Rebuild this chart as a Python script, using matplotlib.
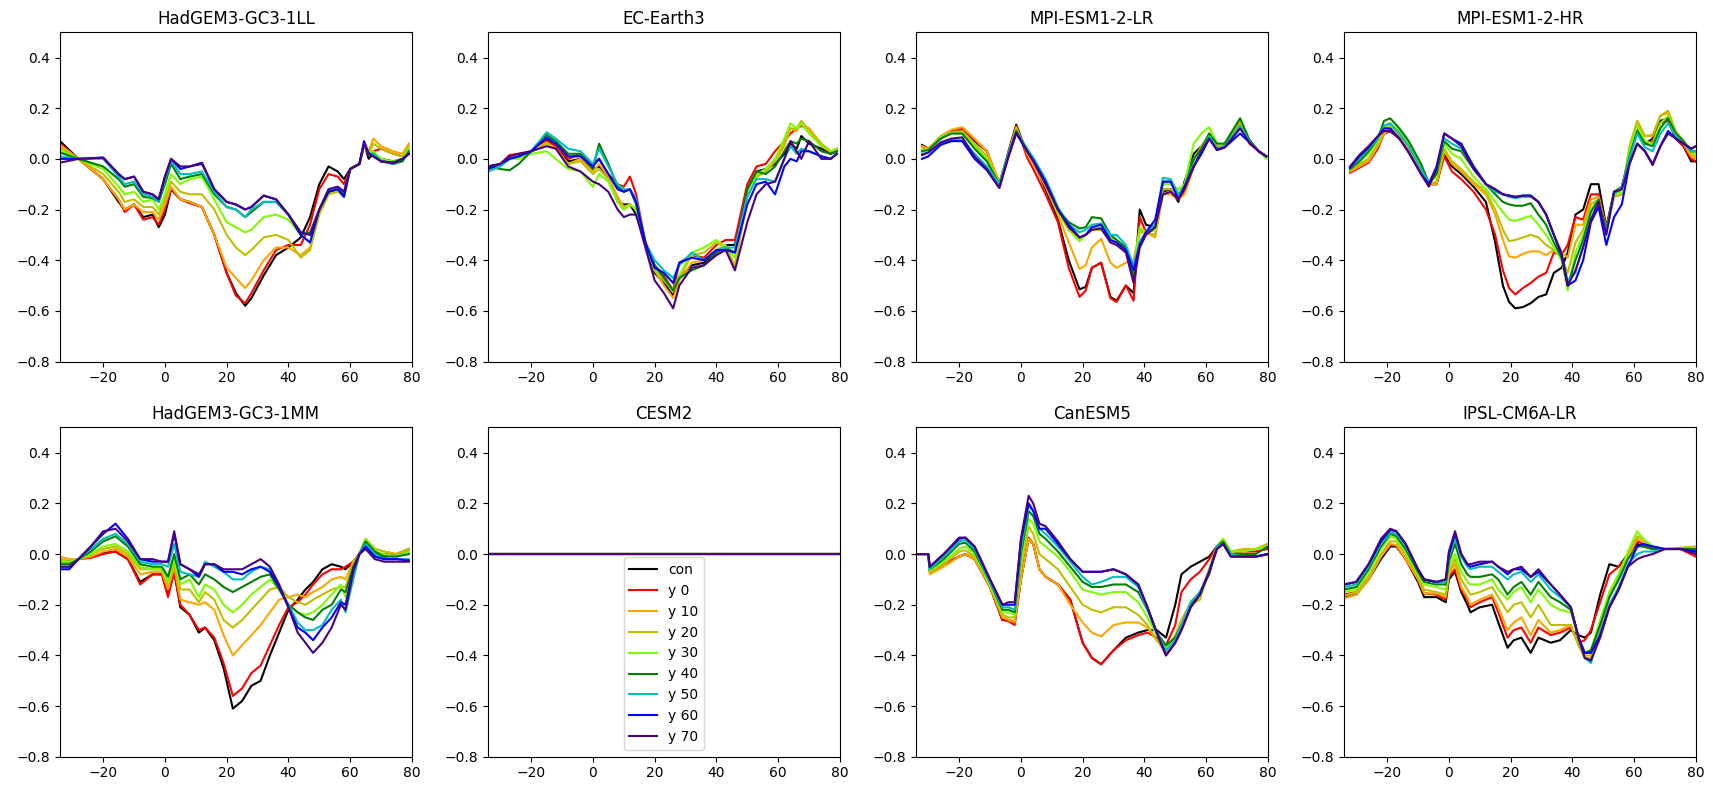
import matplotlib.pyplot as plt

LABELS = ["con", "y 0", "y 10", "y 20", "y 30", "y 40", "y 50", "y 60", "y 70"]
COLORS = ["black", "red", "orange", "y", "lawngreen", "green", "c", "blue", "indigo"]

# ---- HadGEM3-GC3-1LL ----
hadll_lat = [-34, -28, -20, -15, -13, -10, -7, -4, -2, 0, 2, 5, 8, 12, 16, 20, 23, 26, 28, 32, 36, 40,
             44, 47, 50, 53, 56, 58, 60, 63, 64.5, 66, 67.5, 70, 74, 77, 79]
hadll_con = [0.07, 0.0, -0.08, -0.17, -0.2, -0.18, -0.23, -0.22, -0.27, -0.22, -0.12, -0.16, -0.17, -0.19, -0.3, -0.45,
             -0.53, -0.58, -0.55, -0.46, -0.38, -0.35, -0.31, -0.23, -0.1, -0.03, -0.05, -0.08, -0.04, -0.02, 0.06,
             0.0, 0.02, 0.0, -0.01, 0.0, 0.02]
hadll_y0 = [0.06, 0.0, -0.08, -0.16, -0.21, -0.18, -0.24, -0.23, -0.26, -0.2, -0.115, -0.16, -0.175, -0.19, -0.3, -0.45,
            -0.54, -0.57, -0.53, -0.44, -0.36, -0.34, -0.34, -0.26, -0.12, -0.06, -0.07, -0.1, -0.04, -0.02, 0.05,
            0.02, 0.03, 0.04, 0.02, 0.01, 0.02]
hadll_y10 = [0.055, 0.0, -0.08, -0.16, -0.2, -0.18, -0.21, -0.21, -0.24, -0.18, -0.11, -0.16, -0.17, -0.19, -0.3, -0.43,
             -0.47, -0.51, -0.48, -0.4, -0.35, -0.35, -0.38, -0.35, -0.2, -0.13, -0.12, -0.14, -0.04, -0.02, 0.05,
             0.03, 0.08, 0.05, 0.03, 0.02, 0.06]
hadll_y20 = [0.045, 0.0, -0.06, -0.13, -0.17, -0.16, -0.19, -0.19, -0.22, -0.16, -0.09, -0.13, -0.14, -0.14, -0.2, -0.3,
             -0.35, -0.38, -0.36, -0.31, -0.3, -0.32, -0.39, -0.36, -0.22, -0.14, -0.13, -0.15, -0.04, -0.02, 0.05,
             0.02, 0.06, 0.04, 0.02, 0.01, 0.05]
hadll_y30 = [0.035, 0.0, -0.04, -0.11, -0.14, -0.13, -0.17, -0.16, -0.2, -0.14, -0.06, -0.1, -0.08, -0.07, -0.16, -0.25,
             -0.27, -0.29, -0.28, -0.23, -0.22, -0.24, -0.3, -0.33, -0.2, -0.13, -0.12, -0.15, -0.04, -0.02, 0.06,
             0.02, 0.03, 0.0, -0.01, 0.0, 0.04]
hadll_y40 = [0.025, 0.0, -0.03, -0.08, -0.11, -0.1, -0.15, -0.155, -0.17, -0.1, -0.02, -0.08, -0.07, -0.06, -0.14, -0.19,
             -0.2, -0.23, -0.21, -0.17, -0.17, -0.22, -0.3, -0.29, -0.2, -0.13, -0.12, -0.14, -0.04, -0.02, 0.06,
             0.02, 0.02, -0.01, -0.02, -0.01, 0.03]
hadll_y50 = [0.01, 0.0, 0.0, -0.07, -0.1, -0.09, -0.14, -0.15, -0.17, -0.08, -0.01, -0.06, -0.06, -0.05, -0.13, -0.19,
             -0.2, -0.23, -0.2, -0.17, -0.17, -0.22, -0.29, -0.3, -0.2, -0.12, -0.11, -0.13, -0.04, -0.02, 0.06,
             0.02, 0.02, -0.01, -0.015, 0.0, 0.02]
hadll_y60 = [0.0, 0.0, 0.005, -0.06, -0.08, -0.07, -0.13, -0.14, -0.16, -0.07, 0.0, -0.04, -0.03, -0.02, -0.12, -0.17,
             -0.18, -0.2, -0.19, -0.145, -0.16, -0.22, -0.3, -0.33, -0.2, -0.13, -0.12, -0.15, -0.04, -0.02, 0.07,
             0.02, 0.01, -0.01, -0.015, 0.0, 0.02]
hadll_y70 = [-0.015, 0.0, 0.005, -0.06, -0.08, -0.07, -0.13, -0.14, -0.16, -0.07, 0.0, -0.03, -0.03, -0.015, -0.12, -0.17,
             -0.18, -0.2, -0.19, -0.145, -0.16, -0.22, -0.29, -0.3, -0.2, -0.12, -0.11, -0.13, -0.04, -0.02, 0.06,
             0.02, 0.01, -0.01, -0.015, 0.0, 0.02]

# ---- EC-Earth3 ----
ec_lat = [-34, -30, -27, -24, -20, -15, -12, -8, -4, 0, 2, 5, 8, 10, 12, 14, 17, 20, 23, 26, 28, 32, 36, 40, 43,
          46, 50, 53, 56, 59, 62, 64, 66, 67.5, 70, 74, 77, 79]
ec_con = [-0.03, -0.02, 0.0, 0.01, 0.03, 0.075, 0.05, -0.01, 0.0, -0.04, -0.03, -0.07, -0.17, -0.18, -0.18, -0.22, -0.33,
          -0.45, -0.49, -0.54, -0.47, -0.42, -0.41, -0.37, -0.34, -0.34, -0.12, -0.05, -0.04, -0.02, 0.02, 0.06, 0.04,
          0.09, 0.06, 0.04, 0.02, 0.03]
ec_y0 = [-0.04, -0.02, 0.015, 0.02, 0.03, 0.07, 0.05, 0.0, 0.02, -0.02, 0.0, -0.06, -0.1, -0.11, -0.07, -0.14, -0.33,
         -0.42, -0.46, -0.52, -0.41, -0.38, -0.39, -0.34, -0.32, -0.32, -0.1, -0.03, -0.02, 0.03, 0.07, 0.1, 0.12,
         0.13, 0.12, 0.05, 0.02, 0.04]
ec_y10 = [-0.04, -0.02, 0.0, 0.01, 0.03, 0.065, 0.04, -0.02, 0.0, -0.05, -0.02, -0.07, -0.15, -0.19, -0.18, -0.2, -0.33,
          -0.44, -0.5, -0.55, -0.48, -0.41, -0.4, -0.36, -0.34, -0.43, -0.15, -0.07, -0.05, -0.01, 0.05, 0.12, 0.11,
          0.14, 0.12, 0.06, 0.03, 0.04]
ec_y20 = [-0.04, -0.02, 0.0, 0.01, 0.03, 0.06, 0.04, -0.02, -0.01, -0.06, -0.04, -0.08, -0.17, -0.2, -0.18, -0.2, -0.33,
          -0.44, -0.48, -0.52, -0.47, -0.38, -0.37, -0.33, -0.35, -0.42, -0.15, -0.07, -0.05, 0.0, 0.06, 0.12, 0.12,
          0.15, 0.11, 0.06, 0.03, 0.04]
ec_y30 = [-0.04, -0.02, 0.0, 0.0, 0.02, 0.03, 0.0, -0.04, -0.05, -0.11, -0.06, -0.09, -0.17, -0.2, -0.18, -0.2, -0.33,
          -0.43, -0.47, -0.52, -0.46, -0.37, -0.35, -0.32, -0.35, -0.39, -0.15, -0.06, -0.04, 0.0, 0.08, 0.14, 0.12,
          0.14, 0.1, 0.05, 0.03, 0.04]
ec_y40 = [-0.03, -0.04, -0.045, -0.02, 0.03, 0.095, 0.07, 0.02, 0.02, -0.04, 0.06, -0.02, -0.11, -0.13, -0.12, -0.18,
          -0.33, -0.42, -0.47, -0.52, -0.47, -0.44, -0.42, -0.37, -0.35, -0.37, -0.12, -0.05, -0.06, -0.03, 0.03, 0.07,
          0.06, 0.08, 0.07, 0.03, 0.02, 0.03]
ec_y50 = [-0.05, -0.03, 0.0, 0.01, 0.03, 0.105, 0.08, 0.04, 0.03, -0.02, 0.04, -0.03, -0.1, -0.12, -0.12, -0.16, -0.33,
          -0.4, -0.44, -0.47, -0.42, -0.37, -0.4, -0.36, -0.35, -0.35, -0.15, -0.08, -0.08, -0.09, 0.0, 0.05, 0.02,
          0.04, 0.03, 0.01, 0.0, 0.02]
ec_y60 = [-0.04, -0.02, 0.0, 0.01, 0.03, 0.085, 0.06, 0.01, 0.01, -0.03, 0.0, -0.06, -0.12, -0.13, -0.12, -0.17, -0.33,
          -0.43, -0.45, -0.49, -0.41, -0.39, -0.4, -0.36, -0.36, -0.37, -0.18, -0.1, -0.09, -0.14, -0.03, 0.0, -0.01,
          0.03, 0.03, 0.01, 0.0, 0.02]
ec_y70 = [-0.03, -0.02, 0.01, 0.02, 0.03, 0.05, 0.04, -0.03, -0.05, -0.09, -0.1, -0.13, -0.2, -0.23, -0.22, -0.22, -0.35,
          -0.48, -0.53, -0.59, -0.5, -0.43, -0.42, -0.38, -0.36, -0.44, -0.25, -0.14, -0.1, -0.09, 0.0, 0.07, 0.03,
          0.0, 0.07, 0.0, 0.0, 0.02]

# ---- MPI-ESM1-2-LR ----
mpilr_lat = [-32, -30, -26, -22.5, -19, -15, -11, -7, -4, -1.5, 2, 4, 8, 12, 15.5, 19, 21, 23, 26, 29, 31, 34, 36.5,
             38.5, 40.5, 43.5, 46, 48.5, 51, 53, 56, 58.5, 61, 63.5, 66, 71, 74, 77, 79.5]
mpilr_con = [0.055, 0.04, 0.08, 0.11, 0.115, 0.07, 0.03, -0.1, 0.03, 0.135, 0.02, -0.01, -0.12, -0.24, -0.4, -0.515,
             -0.505, -0.43, -0.41, -0.545, -0.56, -0.5, -0.53, -0.2, -0.26, -0.27, -0.13, -0.12, -0.17, -0.09, 0.02,
             0.05, 0.09, 0.04, 0.05, 0.145, 0.07, 0.03, 0.01]
mpilr_y0 = [0.05, 0.04, 0.085, 0.11, 0.12, 0.075, 0.03, -0.1, 0.02, 0.13, 0.005, -0.04, -0.14, -0.25, -0.43, -0.545,
            -0.52, -0.43, -0.41, -0.55, -0.565, -0.5, -0.56, -0.23, -0.29, -0.28, -0.12, -0.12, -0.16, -0.13, -0.03,
            0.03, 0.08, 0.04, 0.05, 0.14, 0.06, 0.03, 0.01]
mpilr_y10 = [0.05, 0.04, 0.09, 0.115, 0.125, 0.08, 0.03, -0.09, 0.02, 0.125, 0.02, -0.02, -0.11, -0.22, -0.33, -0.435,
             -0.42, -0.35, -0.315, -0.41, -0.43, -0.41, -0.4, -0.28, -0.29, -0.31, -0.14, -0.14, -0.16, -0.14, -0.03,
             0.03, 0.09, 0.05, 0.055, 0.145, 0.07, 0.03, 0.01]
mpilr_y20 = [0.04, 0.035, 0.09, 0.105, 0.11, 0.06, 0.01, -0.1, 0.02, 0.12, 0.03, -0.01, -0.1, -0.21, -0.28, -0.32,
             -0.3, -0.28, -0.28, -0.32, -0.33, -0.36, -0.44, -0.29, -0.29, -0.3, -0.12, -0.12, -0.15, -0.1, 0.0,
             0.05, 0.1, 0.05, 0.055, 0.15, 0.075, 0.03, 0.01]
mpilr_y30 = [0.03, 0.035, 0.085, 0.1, 0.1, 0.05, 0.0, -0.1, 0.02, 0.11, 0.04, 0.0, -0.09, -0.21, -0.28, -0.325,
             -0.3, -0.27, -0.27, -0.31, -0.32, -0.35, -0.46, -0.27, -0.29, -0.28, -0.1, -0.1, -0.12, -0.1, 0.06,
             0.1, 0.125, 0.06, 0.06, 0.16, 0.075, 0.03, 0.0]
mpilr_y40 = [0.03, 0.035, 0.08, 0.1, 0.1, 0.04, -0.01, -0.1, 0.02, 0.11, 0.04, 0.0, -0.09, -0.2, -0.25, -0.275,
             -0.27, -0.23, -0.235, -0.3, -0.32, -0.35, -0.47, -0.33, -0.29, -0.26, -0.09, -0.09, -0.14, -0.11, 0.0,
             0.04, 0.1, 0.06, 0.06, 0.16, 0.075, 0.03, 0.01]
mpilr_y50 = [0.02, 0.025, 0.06, 0.075, 0.075, 0.02, -0.03, -0.1, 0.02, 0.105, 0.04, 0.005, -0.08, -0.19, -0.26, -0.29,
             -0.28, -0.26, -0.255, -0.3, -0.3, -0.34, -0.42, -0.33, -0.29, -0.26, -0.075, -0.08, -0.14, -0.11, -0.02,
             0.03, 0.09, 0.04, 0.05, 0.13, 0.07, 0.03, 0.01]
mpilr_y60 = [0.0, 0.01, 0.055, 0.07, 0.07, 0.0, -0.045, -0.115, 0.01, 0.1, 0.03, -0.005, -0.09, -0.2, -0.26, -0.31,
             -0.3, -0.27, -0.26, -0.32, -0.33, -0.36, -0.44, -0.34, -0.29, -0.24, -0.09, -0.09, -0.16, -0.11, -0.03,
             0.02, 0.08, 0.035, 0.045, 0.1, 0.065, 0.03, 0.01]
mpilr_y70 = [0.015, 0.025, 0.065, 0.08, 0.085, 0.01, -0.04, -0.115, 0.01, 0.105, 0.03, -0.01, -0.1, -0.2, -0.27, -0.31,
             -0.3, -0.28, -0.275, -0.33, -0.34, -0.37, -0.49, -0.35, -0.3, -0.27, -0.14, -0.13, -0.16, -0.12, -0.03,
             0.03, 0.08, 0.035, 0.045, 0.12, 0.065, 0.03, 0.01]

# ---- MPI-ESM1-2-HR ----
mpihr_lat = [-32, -29, -26, -23, -21, -19, -16, -13, -9, -6.5, -4, -1.5, 1, 4, 8, 12, 15, 17.5, 19.5, 21.5, 24, 26.5,
             29, 31.5, 34, 36.5, 38.5, 41, 43.5, 46, 48.5, 51, 53.5, 56, 58.5, 61, 63.5, 66, 68.5, 71, 73.5, 76, 78.5, 80]
mpihr_con = [-0.05, -0.03, -0.01, 0.05, 0.1, 0.11, 0.08, 0.03, -0.05, -0.1, -0.1, 0.02, -0.03, -0.06, -0.11, -0.17,
             -0.33, -0.5, -0.565, -0.59, -0.585, -0.57, -0.545, -0.535, -0.45, -0.43, -0.37, -0.22, -0.2, -0.1, -0.1,
             -0.27, -0.13, -0.12, 0.0, 0.13, 0.06, 0.08, 0.15, 0.16, 0.08, 0.05, -0.01, -0.01]
mpihr_y0 = [-0.055, -0.035, -0.015, 0.04, 0.1, 0.11, 0.08, 0.035, -0.05, -0.1, -0.1, 0.01, -0.05, -0.08, -0.13, -0.2,
            -0.3, -0.44, -0.51, -0.535, -0.51, -0.49, -0.465, -0.45, -0.37, -0.38, -0.34, -0.23, -0.24, -0.14, -0.14,
            -0.27, -0.14, -0.12, 0.02, 0.13, 0.06, 0.07, 0.14, 0.15, 0.08, 0.05, 0.0, -0.01]
mpihr_y10 = [-0.05, -0.03, -0.01, 0.05, 0.1, 0.12, 0.09, 0.04, -0.045, -0.1, -0.1, 0.03, -0.02, -0.05, -0.1, -0.14,
             -0.22, -0.32, -0.385, -0.39, -0.375, -0.365, -0.365, -0.38, -0.36, -0.37, -0.39, -0.26, -0.26, -0.16,
             -0.15, -0.28, -0.15, -0.14, 0.04, 0.15, 0.09, 0.095, 0.17, 0.18, 0.1, 0.06, 0.01, 0.0]
mpihr_y20 = [-0.045, -0.02, 0.0, 0.06, 0.12, 0.13, 0.1, 0.05, -0.035, -0.1, -0.09, 0.04, -0.01, -0.04, -0.09, -0.13,
             -0.2, -0.28, -0.325, -0.32, -0.31, -0.3, -0.31, -0.34, -0.36, -0.39, -0.45, -0.33, -0.28, -0.18, -0.16,
             -0.28, -0.15, -0.14, 0.05, 0.15, 0.09, 0.09, 0.17, 0.19, 0.11, 0.07, 0.02, 0.01]
mpihr_y30 = [-0.04, -0.01, 0.02, 0.07, 0.13, 0.14, 0.11, 0.06, -0.03, -0.095, -0.07, 0.06, 0.02, 0.0, -0.07, -0.12,
             -0.17, -0.21, -0.24, -0.245, -0.235, -0.225, -0.26, -0.3, -0.35, -0.4, -0.52, -0.37, -0.3, -0.2, -0.16,
             -0.28, -0.14, -0.13, 0.03, 0.13, 0.07, 0.06, 0.14, 0.17, 0.1, 0.07, 0.03, 0.02]
mpihr_y40 = [-0.04, -0.01, 0.03, 0.08, 0.15, 0.16, 0.12, 0.07, -0.02, -0.095, -0.06, 0.07, 0.04, 0.03, -0.04, -0.1,
             -0.14, -0.17, -0.18, -0.185, -0.185, -0.175, -0.22, -0.26, -0.33, -0.39, -0.5, -0.4, -0.32, -0.21, -0.16,
             -0.28, -0.13, -0.11, 0.01, 0.11, 0.06, 0.05, 0.12, 0.16, 0.1, 0.07, 0.03, 0.03]
mpihr_y50 = [-0.035, 0.0, 0.04, 0.08, 0.13, 0.14, 0.1, 0.05, -0.04, -0.095, -0.04, 0.08, 0.06, 0.04, -0.03, -0.1,
             -0.13, -0.14, -0.15, -0.155, -0.15, -0.15, -0.17, -0.22, -0.3, -0.38, -0.48, -0.45, -0.34, -0.24, -0.17,
             -0.29, -0.14, -0.11, 0.0, 0.1, 0.045, 0.03, 0.1, 0.14, 0.09, 0.06, 0.03, 0.03]
mpihr_y60 = [-0.035, 0.01, 0.045, 0.09, 0.12, 0.12, 0.08, 0.025, -0.06, -0.1, -0.03, 0.1, 0.08, 0.06, -0.03, -0.1,
             -0.12, -0.14, -0.145, -0.15, -0.145, -0.145, -0.17, -0.22, -0.3, -0.38, -0.5, -0.48, -0.4, -0.25, -0.19,
             -0.34, -0.23, -0.18, -0.02, 0.06, 0.03, -0.02, 0.05, 0.11, 0.08, 0.06, 0.04, 0.05]
mpihr_y70 = [-0.03, 0.015, 0.05, 0.09, 0.11, 0.11, 0.08, 0.025, -0.06, -0.11, -0.04, 0.1, 0.08, 0.05, -0.04, -0.1,
             -0.12, -0.14, -0.145, -0.15, -0.145, -0.145, -0.17, -0.22, -0.3, -0.37, -0.5, -0.44, -0.35, -0.24, -0.17,
             -0.3, -0.13, -0.12, -0.02, 0.06, 0.03, -0.025, 0.05, 0.1, 0.08, 0.06, 0.04, 0.05]

# ---- HadGEM3-GC3-1MM ----
hadmm_lat = [-34, -31, -28, -24, -20, -16, -12, -8, -4, -1, 1, 3, 5, 8, 11, 13, 16, 19, 22, 25, 28, 31, 34, 37, 40,
             43, 45.5, 48, 51, 54, 57, 58.5, 61, 63, 65, 68, 71, 75, 79]
hadmm_con = [-0.03, -0.03, -0.02, -0.01, 0.005, 0.01, -0.02, -0.11, -0.08, -0.08, -0.16, -0.07, -0.21, -0.24, -0.31,
             -0.29, -0.34, -0.45, -0.61, -0.58, -0.52, -0.5, -0.4, -0.31, -0.22, -0.18, -0.14, -0.11, -0.06, -0.04,
             -0.05, -0.06, -0.03, 0.0, 0.05, 0.0, -0.01, 0.0, 0.02]
hadmm_y0 = [-0.02, -0.03, -0.02, -0.015, 0.0, 0.01, -0.02, -0.12, -0.08, -0.08, -0.17, -0.07, -0.2, -0.24, -0.3,
            -0.29, -0.33, -0.43, -0.56, -0.53, -0.47, -0.44, -0.36, -0.28, -0.21, -0.19, -0.16, -0.12, -0.08, -0.06,
            -0.06, -0.05, -0.03, 0.0, 0.05, 0.0, 0.0, 0.0, 0.01]
hadmm_y10 = [-0.01, -0.02, -0.02, -0.01, 0.01, 0.02, -0.01, -0.08, -0.07, -0.07, -0.14, -0.05, -0.18, -0.19, -0.2,
             -0.19, -0.22, -0.32, -0.4, -0.36, -0.32, -0.28, -0.23, -0.18, -0.17, -0.16, -0.17, -0.15, -0.13, -0.1,
             -0.09, -0.1, -0.03, 0.0, 0.06, 0.02, 0.01, 0.0, 0.02]
hadmm_y20 = [-0.02, -0.03, -0.02, 0.0, 0.02, 0.03, 0.0, -0.06, -0.06, -0.06, -0.12, -0.03, -0.14, -0.14, -0.19,
             -0.15, -0.18, -0.26, -0.29, -0.26, -0.22, -0.18, -0.14, -0.13, -0.17, -0.19, -0.2, -0.18, -0.16, -0.14,
             -0.13, -0.13, -0.04, 0.0, 0.06, 0.02, 0.01, 0.0, 0.02]
hadmm_y30 = [-0.03, -0.03, -0.02, 0.0, 0.03, 0.04, 0.01, -0.05, -0.06, -0.06, -0.11, -0.02, -0.12, -0.1, -0.17,
             -0.12, -0.14, -0.2, -0.23, -0.2, -0.16, -0.13, -0.1, -0.14, -0.2, -0.23, -0.24, -0.23, -0.2, -0.16,
             -0.12, -0.17, -0.05, 0.0, 0.06, 0.01, 0.0, -0.01, 0.01]
hadmm_y40 = [-0.04, -0.04, -0.02, 0.01, 0.05, 0.07, 0.03, -0.04, -0.05, -0.05, -0.09, 0.0, -0.1, -0.08, -0.12,
             -0.08, -0.1, -0.13, -0.15, -0.13, -0.11, -0.09, -0.08, -0.14, -0.2, -0.23, -0.25, -0.26, -0.22, -0.2,
             -0.14, -0.15, -0.05, 0.0, 0.05, 0.01, -0.01, -0.01, 0.0]
hadmm_y50 = [-0.05, -0.05, -0.02, 0.02, 0.06, 0.08, 0.04, -0.03, -0.04, -0.04, -0.05, 0.04, -0.07, -0.08, -0.09,
             -0.03, -0.05, -0.07, -0.1, -0.1, -0.07, -0.05, -0.06, -0.13, -0.2, -0.27, -0.3, -0.3, -0.28, -0.22,
             -0.18, -0.23, -0.1, 0.0, 0.04, 0.0, -0.02, -0.02, -0.02]
hadmm_y60 = [-0.06, -0.06, -0.02, 0.03, 0.08, 0.12, 0.06, -0.02, -0.03, -0.03, -0.03, 0.08, -0.04, -0.06, -0.09,
             -0.04, -0.04, -0.07, -0.07, -0.08, -0.06, -0.05, -0.07, -0.13, -0.21, -0.29, -0.31, -0.34, -0.29, -0.25,
             -0.19, -0.2, -0.06, 0.0, 0.03, -0.01, -0.02, -0.02, -0.025]
hadmm_y70 = [-0.05, -0.05, -0.02, 0.03, 0.09, 0.1, 0.05, -0.02, -0.02, -0.03, -0.03, 0.09, -0.04, -0.06, -0.08,
             -0.04, -0.04, -0.06, -0.06, -0.06, -0.04, -0.02, -0.05, -0.12, -0.21, -0.31, -0.35, -0.39, -0.35, -0.29,
             -0.2, -0.22, -0.07, 0.0, 0.02, -0.02, -0.03, -0.03, -0.03]

# ---- CESM2 (flat) ----
cesm_lat = [-34, 80]
cesm_con = [0.0, 0.0]
cesm_y0 = [0.0, 0.0]
cesm_y10 = [0.0, 0.0]
cesm_y20 = [0.0, 0.0]
cesm_y30 = [0.0, 0.0]
cesm_y40 = [0.0, 0.0]
cesm_y50 = [0.0, 0.0]
cesm_y60 = [0.0, 0.0]
cesm_y70 = [0.0, 0.0]

# ---- CanESM5 ----
can_lat = [-34, -30, -29.5, -25, -20, -18, -15, -10, -6, -4, -2, 0, 2.5, 4, 6, 8, 12, 16, 20, 23, 26, 30, 34, 38,
           41, 44, 47, 50, 52, 55, 58, 61, 63.5, 65.5, 68, 72, 76, 80]
can_con = [0.0, 0.0, -0.07, -0.04, -0.01, 0.0, -0.02, -0.13, -0.26, -0.26, -0.27, -0.1, 0.06, 0.04, -0.06, -0.09,
           -0.12, -0.18, -0.35, -0.41, -0.435, -0.38, -0.33, -0.31, -0.3, -0.3, -0.33, -0.2, -0.08, -0.05, -0.03,
           -0.01, 0.03, 0.05, 0.0, 0.0, -0.01, 0.0]
can_y0 = [0.0, 0.0, -0.07, -0.04, -0.01, 0.0, -0.02, -0.13, -0.26, -0.265, -0.28, -0.1, 0.065, 0.04, -0.06, -0.09,
          -0.12, -0.18, -0.35, -0.41, -0.435, -0.38, -0.34, -0.32, -0.31, -0.33, -0.36, -0.28, -0.15, -0.1, -0.07,
          -0.02, 0.03, 0.05, 0.0, 0.01, 0.01, 0.02]
can_y10 = [0.0, 0.0, -0.08, -0.05, -0.01, 0.0, -0.02, -0.13, -0.25, -0.26, -0.27, -0.1, 0.06, 0.04, -0.06, -0.09,
           -0.12, -0.2, -0.27, -0.31, -0.325, -0.28, -0.27, -0.27, -0.29, -0.34, -0.39, -0.32, -0.26, -0.19, -0.15,
           -0.06, 0.03, 0.06, 0.01, 0.02, 0.02, 0.04]
can_y20 = [0.0, 0.0, -0.07, -0.04, 0.01, 0.015, -0.01, -0.12, -0.24, -0.25, -0.25, -0.05, 0.11, 0.08, 0.0, -0.02,
           -0.06, -0.13, -0.2, -0.22, -0.23, -0.21, -0.21, -0.24, -0.28, -0.34, -0.38, -0.32, -0.28, -0.2, -0.18,
           -0.06, 0.03, 0.06, 0.01, 0.015, 0.02, 0.04]
can_y30 = [0.0, 0.0, -0.065, -0.03, 0.02, 0.03, 0.0, -0.12, -0.23, -0.23, -0.24, -0.03, 0.14, 0.12, 0.05, 0.03,
           -0.01, -0.07, -0.14, -0.15, -0.16, -0.15, -0.15, -0.19, -0.25, -0.32, -0.37, -0.33, -0.28, -0.2, -0.16,
           -0.07, 0.03, 0.06, 0.01, 0.01, 0.02, 0.03]
can_y40 = [0.0, 0.0, -0.06, -0.02, 0.04, 0.045, 0.01, -0.11, -0.22, -0.22, -0.23, 0.0, 0.17, 0.15, 0.08, 0.06,
           0.01, -0.05, -0.11, -0.13, -0.13, -0.12, -0.12, -0.15, -0.22, -0.31, -0.36, -0.33, -0.28, -0.2, -0.15,
           -0.08, 0.03, 0.05, 0.0, 0.0, 0.0, 0.03]
can_y50 = [0.0, 0.0, -0.06, -0.01, 0.05, 0.055, 0.02, -0.11, -0.21, -0.21, -0.22, 0.02, 0.19, 0.17, 0.1, 0.08,
           0.03, -0.03, -0.09, -0.12, -0.11, -0.09, -0.09, -0.13, -0.22, -0.31, -0.38, -0.34, -0.28, -0.19, -0.15,
           -0.07, 0.03, 0.04, 0.0, -0.01, -0.01, 0.0]
can_y60 = [0.0, 0.0, -0.05, 0.0, 0.06, 0.065, 0.03, -0.1, -0.2, -0.2, -0.2, 0.05, 0.2, 0.17, 0.1, 0.1,
           0.04, -0.02, -0.07, -0.07, -0.07, -0.06, -0.08, -0.12, -0.21, -0.31, -0.4, -0.35, -0.3, -0.21, -0.16,
           -0.07, 0.02, 0.04, -0.01, -0.01, -0.01, 0.0]
can_y70 = [0.0, 0.0, -0.05, 0.0, 0.065, 0.065, 0.03, -0.1, -0.2, -0.19, -0.19, 0.06, 0.23, 0.2, 0.12, 0.11,
           0.05, -0.02, -0.07, -0.07, -0.07, -0.06, -0.08, -0.12, -0.21, -0.31, -0.4, -0.35, -0.3, -0.21, -0.16,
           -0.07, 0.02, 0.04, -0.01, -0.01, -0.01, 0.0]

# ---- IPSL-CM6A-LR ----
ipsl_lat = [-34, -30, -26, -22, -19, -17, -14, -10, -8, -4, -1, 0, 2, 4, 6, 7, 10, 14, 16, 19, 21, 23.5, 26.5, 29,
            33, 36, 39.5, 42, 44, 46, 49, 52, 55, 58, 61, 63, 66, 70, 75, 80]
ipsl_con = [-0.17, -0.16, -0.1, -0.02, 0.03, 0.03, -0.02, -0.11, -0.17, -0.17, -0.19, -0.1, -0.07, -0.15, -0.2, -0.23,
            -0.21, -0.2, -0.27, -0.37, -0.34, -0.33, -0.39, -0.33, -0.35, -0.34, -0.3, -0.32, -0.33, -0.31, -0.16,
            -0.04, -0.05, 0.0, 0.04, 0.03, 0.02, 0.02, 0.02, 0.01]
ipsl_y0 = [-0.16, -0.15, -0.09, -0.01, 0.035, 0.035, -0.02, -0.1, -0.155, -0.16, -0.18, -0.09, -0.06, -0.14, -0.18,
           -0.21, -0.19, -0.17, -0.23, -0.33, -0.3, -0.29, -0.35, -0.29, -0.32, -0.31, -0.29, -0.35, -0.34, -0.3,
           -0.19, -0.08, -0.05, -0.01, 0.05, 0.04, 0.02, 0.02, 0.02, -0.01]
ipsl_y10 = [-0.175, -0.16, -0.1, -0.01, 0.04, 0.035, -0.02, -0.1, -0.155, -0.155, -0.17, -0.08, -0.04, -0.13, -0.17,
            -0.2, -0.18, -0.16, -0.21, -0.3, -0.27, -0.25, -0.32, -0.26, -0.31, -0.3, -0.28, -0.36, -0.4, -0.4,
            -0.3, -0.17, -0.1, -0.01, 0.06, 0.05, 0.03, 0.02, 0.025, 0.02]
ipsl_y20 = [-0.165, -0.15, -0.09, 0.0, 0.05, 0.05, 0.0, -0.09, -0.14, -0.15, -0.16, -0.07, -0.02, -0.1, -0.14,
            -0.16, -0.15, -0.13, -0.17, -0.23, -0.2, -0.19, -0.25, -0.2, -0.28, -0.28, -0.28, -0.36, -0.41, -0.41,
            -0.27, -0.15, -0.08, 0.0, 0.07, 0.06, 0.03, 0.02, 0.025, 0.03]
ipsl_y30 = [-0.15, -0.14, -0.07, 0.02, 0.07, 0.06, 0.01, -0.08, -0.12, -0.13, -0.14, -0.05, 0.0, -0.07, -0.11,
            -0.12, -0.12, -0.1, -0.14, -0.18, -0.15, -0.13, -0.19, -0.14, -0.2, -0.22, -0.23, -0.33, -0.39, -0.38,
            -0.26, -0.15, -0.08, 0.01, 0.09, 0.06, 0.03, 0.02, 0.02, 0.02]
ipsl_y40 = [-0.14, -0.13, -0.06, 0.03, 0.08, 0.07, 0.02, -0.07, -0.11, -0.12, -0.12, -0.03, 0.04, -0.04, -0.08,
            -0.09, -0.09, -0.08, -0.1, -0.16, -0.13, -0.11, -0.16, -0.11, -0.17, -0.19, -0.22, -0.33, -0.39, -0.38,
            -0.28, -0.17, -0.1, -0.02, 0.03, 0.03, 0.02, 0.02, 0.02, 0.02]
ipsl_y50 = [-0.13, -0.12, -0.05, 0.04, 0.085, 0.08, 0.03, -0.06, -0.1, -0.115, -0.11, -0.01, 0.06, -0.01, -0.05,
            -0.06, -0.05, -0.05, -0.07, -0.1, -0.08, -0.07, -0.11, -0.08, -0.14, -0.17, -0.21, -0.33, -0.41, -0.43,
            -0.31, -0.2, -0.13, -0.04, 0.0, 0.01, 0.01, 0.02, 0.02, 0.01]
ipsl_y60 = [-0.12, -0.11, -0.04, 0.05, 0.095, 0.09, 0.04, -0.06, -0.1, -0.11, -0.1, 0.0, 0.08, 0.0, -0.04,
            -0.05, -0.04, -0.03, -0.05, -0.08, -0.06, -0.06, -0.09, -0.07, -0.12, -0.16, -0.21, -0.33, -0.39, -0.39,
            -0.32, -0.21, -0.14, -0.05, 0.03, 0.04, 0.03, 0.02, 0.02, 0.01]
ipsl_y70 = [-0.12, -0.11, -0.04, 0.06, 0.1, 0.09, 0.04, -0.06, -0.1, -0.11, -0.1, 0.01, 0.09, 0.0, -0.04,
            -0.04, -0.03, -0.03, -0.05, -0.07, -0.06, -0.05, -0.09, -0.06, -0.12, -0.16, -0.21, -0.33, -0.41, -0.42,
            -0.33, -0.21, -0.14, -0.05, -0.02, -0.01, 0.0, 0.02, 0.02, 0.0]

panels = [
    ("HadGEM3-GC3-1LL", hadll_lat, [hadll_con, hadll_y0, hadll_y10, hadll_y20, hadll_y30, hadll_y40, hadll_y50, hadll_y60, hadll_y70]),
    ("EC-Earth3", ec_lat, [ec_con, ec_y0, ec_y10, ec_y20, ec_y30, ec_y40, ec_y50, ec_y60, ec_y70]),
    ("MPI-ESM1-2-LR", mpilr_lat, [mpilr_con, mpilr_y0, mpilr_y10, mpilr_y20, mpilr_y30, mpilr_y40, mpilr_y50, mpilr_y60, mpilr_y70]),
    ("MPI-ESM1-2-HR", mpihr_lat, [mpihr_con, mpihr_y0, mpihr_y10, mpihr_y20, mpihr_y30, mpihr_y40, mpihr_y50, mpihr_y60, mpihr_y70]),
    ("HadGEM3-GC3-1MM", hadmm_lat, [hadmm_con, hadmm_y0, hadmm_y10, hadmm_y20, hadmm_y30, hadmm_y40, hadmm_y50, hadmm_y60, hadmm_y70]),
    ("CESM2", cesm_lat, [cesm_con, cesm_y0, cesm_y10, cesm_y20, cesm_y30, cesm_y40, cesm_y50, cesm_y60, cesm_y70]),
    ("CanESM5", can_lat, [can_con, can_y0, can_y10, can_y20, can_y30, can_y40, can_y50, can_y60, can_y70]),
    ("IPSL-CM6A-LR", ipsl_lat, [ipsl_con, ipsl_y0, ipsl_y10, ipsl_y20, ipsl_y30, ipsl_y40, ipsl_y50, ipsl_y60, ipsl_y70]),
]

fig, axes = plt.subplots(2, 4, figsize=(17.13, 7.85), dpi=100)
fig.subplots_adjust(left=0.035, right=0.99, top=0.959, bottom=0.036, wspace=0.216, hspace=0.2)

for ax, (title, lat, series) in zip(axes.flat, panels):
    for ys, col, lab in zip(series, COLORS, LABELS):
        if len(ys) != len(lat):
            print("length mismatch:", title, lab, len(ys), len(lat))
            continue
        ax.plot(lat, ys, color=col, lw=1.5, label=lab)
    ax.set_title(title)
    ax.set_xlim(-34, 80)
    ax.set_ylim(-0.8, 0.5)
    if title == "CESM2":
        ax.legend(loc="lower center")

fig.savefig("out.png", dpi=100)
